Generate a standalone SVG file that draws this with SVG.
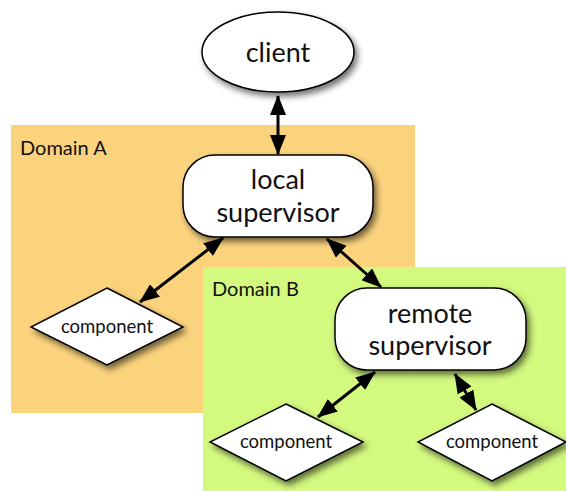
<svg xmlns="http://www.w3.org/2000/svg" width="566" height="491" viewBox="0 0 566 491">
  <style>
    .node { fill: #ffffff; stroke: #000000; stroke-width: 1.5; filter: url(#shadow); }
    .big { font-family: "Lato", "Open Sans", "DejaVu Sans", sans-serif; font-size: 27px; fill: #111111; text-anchor: middle; }
    .small { font-family: "Lato", "Open Sans", "DejaVu Sans", sans-serif; font-size: 18.5px; fill: #111111; text-anchor: middle; }
    .domain { font-family: "Lato", "Open Sans", "DejaVu Sans", sans-serif; font-size: 20px; fill: #111111; }
    .link { stroke: #000000; stroke-width: 3; fill: none; marker-start: url(#head); marker-end: url(#head); }
  </style>
  <defs>
    <filter id="shadow" x="-20%" y="-20%" width="150%" height="160%">
      <feDropShadow dx="3" dy="4" stdDeviation="3" flood-color="#000000" flood-opacity="0.55"/>
    </filter>
    <marker id="head" viewBox="0 0 20 16" refX="19" refY="8" markerWidth="20" markerHeight="16" orient="auto-start-reverse" markerUnits="userSpaceOnUse">
      <path d="M0,0 L20,8 L0,16 Z" fill="#000000"/>
    </marker>
  </defs>

  <rect width="566" height="491" fill="#ffffff"/>

  <!-- domain areas -->
  <g id="domain-a">
    <rect x="11" y="125" width="404" height="288" fill="#fcd37d"/>
    <text class="domain" x="20" y="155">Domain A</text>
  </g>
  <g id="domain-b">
    <rect x="203" y="267" width="363" height="224" fill="#d3f97f"/>
    <text class="domain" x="212" y="296">Domain B</text>
  </g>

  <!-- connectors -->
  <g id="connectors">
    <line class="link" x1="278" y1="96" x2="278" y2="154"/>
    <line class="link" x1="223" y1="238" x2="140" y2="302"/>
    <line class="link" x1="327" y1="239" x2="381" y2="287"/>
    <line class="link" x1="375" y1="372" x2="318" y2="417"/>
    <line class="link" x1="455" y1="374" x2="476" y2="410"/>
  </g>

  <!-- nodes -->
  <g id="client">
    <ellipse class="node" cx="278" cy="52" rx="76" ry="40"/>
    <text class="big" x="278" y="62">client</text>
  </g>
  <g id="local-supervisor">
    <rect class="node" x="183" y="155" width="190" height="82" rx="32" ry="32"/>
    <text class="big" x="278" y="189">local</text>
    <text class="big" x="278" y="222">supervisor</text>
  </g>
  <g id="component-a">
    <polygon class="node" points="107,288 183,327 107,365 31,327"/>
    <text class="small" x="107" y="333">component</text>
  </g>
  <g id="remote-supervisor">
    <rect class="node" x="335" y="288" width="191" height="82" rx="32" ry="32"/>
    <text class="big" x="430" y="323">remote</text>
    <text class="big" x="430" y="355">supervisor</text>
  </g>
  <g id="component-b1">
    <polygon class="node" points="286,404 363,442 286,481 210,442"/>
    <text class="small" x="286" y="448">component</text>
  </g>
  <g id="component-b2">
    <polygon class="node" points="492,404 566,442 492,481 418,442"/>
    <text class="small" x="492" y="448">component</text>
  </g>
</svg>
